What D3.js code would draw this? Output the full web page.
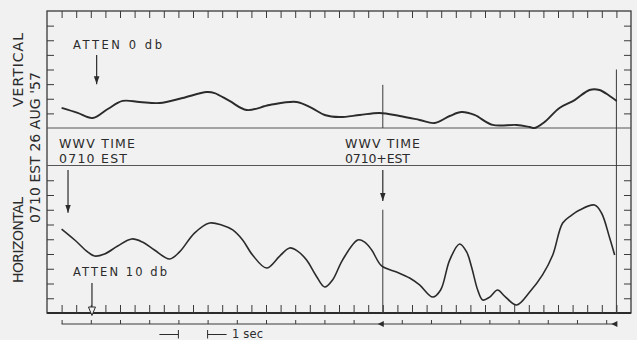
<!DOCTYPE html>
<html>
<head>
<meta charset="utf-8">
<script src="https://cdn.jsdelivr.net/npm/d3@7"></script>
<style>
  body { margin: 0; background: #f1f1f1; }
  svg { display: block; }
  text { font-family: "DejaVu Sans", sans-serif; fill: #2b2b2b; }
</style>
</head>
<body>
<div id="chart"></div>
<script>
// time in seconds from the first half-second tick, amplitude in grid divisions
const verticalTime = [0, 0.55, 1.06, 1.58, 2.09, 2.67, 3.36, 4.14, 4.97, 5.24, 5.75, 6.34, 7.12, 8.05, 8.56, 9.01, 9.52, 10.21, 10.89, 11.58, 12.26, 12.77, 13.29, 13.7, 14.14, 14.76, 15.58, 16.03, 16.2, 16.54, 17.05, 17.57, 18.08, 18.42, 18.77, 19.01];
const verticalLevel = [1.37, 1.03, 0.68, 1.3, 1.85, 1.78, 1.71, 2.05, 2.46, 2.39, 1.85, 1.23, 1.57, 1.78, 1.37, 0.89, 0.75, 0.89, 1.03, 0.82, 0.55, 0.34, 0.82, 1.09, 0.89, 0.21, 0.21, 0.07, 0.0, 0.41, 1.37, 1.91, 2.6, 2.6, 2.19, 1.85];

const horizontalTime = [0, 0.45, 0.89, 1.13, 1.47, 1.92, 2.4, 2.77, 3.18, 3.7, 4.04, 4.55, 5.07, 5.48, 5.86, 6.2, 6.54, 7.02, 7.47, 7.81, 8.08, 8.39, 8.7, 9.01, 9.28, 9.62, 10.14, 10.38, 10.62, 10.96, 11.47, 11.92, 12.26, 12.71, 12.98, 13.29, 13.63, 13.87, 14.04, 14.25, 14.42, 14.66, 14.93, 15.17, 15.58, 16.03, 16.47, 16.82, 17.16, 17.47, 17.74, 18.25, 18.49, 18.77, 18.94];
const horizontalLevel = [5.69, 4.95, 4.14, 3.86, 4.0, 4.54, 5.02, 4.81, 4.27, 3.66, 4.14, 5.42, 6.1, 5.97, 5.63, 4.95, 3.93, 3.05, 3.86, 4.41, 4.2, 3.59, 2.58, 1.76, 2.24, 3.59, 4.95, 4.81, 4.27, 3.19, 2.78, 2.37, 1.9, 1.08, 1.56, 3.59, 4.68, 4.14, 3.12, 1.56, 0.88, 1.08, 1.56, 1.15, 0.54, 1.42, 2.58, 3.93, 6.1, 6.64, 6.98, 7.32, 6.78, 5.08, 3.93];

const halfSecondTicks = d3.range(0, 19.01, 0.5);
const topGridLevels = [1, 2, 3, 4, 5, 6, 7];
const bottomGridLevels = [1, 2, 3, 4, 5, 6, 7, 8, 9];
const timeCodeTicks = [0, 1, 2, 3, 4, 5, 6, 7, 8, 9, 10, 11.65, 12.65, 13.65, 14.65, 15.65, 16.65, 17.65, 18.65];
const timeCodeArrows = [11, 19];
const secondMarks = [4, 5];

const width = 637, height = 340;
const ink = '#2b2b2b';

const svg = d3.select('#chart').append('svg')
  .attr('width', width)
  .attr('height', height);

svg.append('rect').attr('width', width).attr('height', height).attr('fill', '#f1f1f1');

const x = d3.scaleLinear().domain([-0.5, 19.5]).range([47, 631]);
const yTop = d3.scaleLinear().domain([0, 8]).range([128, 11]);
const yBottom = d3.scaleLinear().domain([0, 10]).range([313, 165.5]);

svg.append('defs').append('marker')
  .attr('id', 'head')
  .attr('viewBox', '0 0 10 10')
  .attr('refX', 10).attr('refY', 5)
  .attr('markerWidth', 8).attr('markerHeight', 8)
  .attr('markerUnits', 'userSpaceOnUse')
  .attr('orient', 'auto')
  .append('path')
  .attr('d', 'M0,1.5 L10,5 L0,8.5 Z')
  .attr('fill', ink);

// frame and the band between the two records
svg.append('rect')
  .attr('x', x(-0.5)).attr('y', yTop(8))
  .attr('width', x(19.5) - x(-0.5)).attr('height', yBottom(0) - yTop(8))
  .attr('fill', 'none').attr('stroke', '#3a3a3a').attr('stroke-width', 1.3);

[yTop(0), yBottom(10)].forEach(y => {
  svg.append('line')
    .attr('x1', x(-0.5)).attr('x2', x(19.5))
    .attr('y1', y).attr('y2', y)
    .attr('stroke', '#555').attr('stroke-width', 1);
});

svg.append('line')
  .attr('x1', x(-0.5)).attr('x2', x(19.5))
  .attr('y1', yBottom(0)).attr('y2', yBottom(0))
  .attr('stroke', ink).attr('stroke-width', 2.2);

const noDomain = g => g.select('.domain').remove();

svg.append('g').attr('color', '#3a3a3a')
  .attr('transform', `translate(0,${yTop(8)})`)
  .call(d3.axisBottom(x).tickValues(halfSecondTicks).tickSize(7).tickFormat(''))
  .call(noDomain);

svg.append('g').attr('color', '#3a3a3a')
  .attr('transform', `translate(0,${yBottom(0)})`)
  .call(d3.axisTop(x).tickValues(halfSecondTicks).tickSize(8).tickFormat(''))
  .call(noDomain);

[[yTop, topGridLevels], [yBottom, bottomGridLevels]].forEach(([scale, levels]) => {
  svg.append('g').attr('color', '#3a3a3a')
    .attr('transform', `translate(${x(-0.5)},0)`)
    .call(d3.axisRight(scale).tickValues(levels).tickSize(7).tickFormat(''))
    .call(noDomain);
  svg.append('g').attr('color', '#3a3a3a')
    .attr('transform', `translate(${x(19.5)},0)`)
    .call(d3.axisLeft(scale).tickValues(levels).tickSize(7).tickFormat(''))
    .call(noDomain);
});

// time code line under the record
const codeY = 324;
svg.append('line')
  .attr('x1', x(0)).attr('x2', x(19))
  .attr('y1', codeY).attr('y2', codeY)
  .attr('stroke', '#3a3a3a').attr('stroke-width', 1);
svg.append('g').attr('color', '#3a3a3a')
  .attr('transform', `translate(0,${codeY})`)
  .call(d3.axisTop(x).tickValues(timeCodeTicks).tickSize(4).tickFormat(''))
  .call(noDomain);
svg.selectAll('.code-arrow')
  .data(timeCodeArrows)
  .join('path')
  .attr('class', 'code-arrow')
  .attr('d', t => `M${x(t) - 5},${codeY} L${x(t) + 1},${codeY - 3} L${x(t) + 1},${codeY + 3} Z`)
  .attr('fill', ink);

// marker lines
svg.append('line')
  .attr('x1', x(11)).attr('x2', x(11))
  .attr('y1', yTop(2.95)).attr('y2', yTop(0))
  .attr('stroke', '#3a3a3a').attr('stroke-width', 1);
svg.append('line')
  .attr('x1', x(11)).attr('x2', x(11))
  .attr('y1', yBottom(7)).attr('y2', yBottom(0))
  .attr('stroke', '#3a3a3a').attr('stroke-width', 1);
svg.append('line')
  .attr('x1', x(19)).attr('x2', x(19))
  .attr('y1', yTop(4)).attr('y2', yBottom(0))
  .attr('stroke', '#3a3a3a').attr('stroke-width', 1);

// the two records
const vertical = verticalTime.map((t, i) => [t, verticalLevel[i]]);
const horizontal = horizontalTime.map((t, i) => [t, horizontalLevel[i]]);

svg.append('path')
  .datum(vertical)
  .attr('fill', 'none').attr('stroke', ink).attr('stroke-width', 1.9)
  .attr('d', d3.line().x(d => x(d[0])).y(d => yTop(d[1])).curve(d3.curveCatmullRom.alpha(0.5)));

svg.append('path')
  .datum(horizontal)
  .attr('fill', 'none').attr('stroke', ink).attr('stroke-width', 1.6)
  .attr('d', d3.line().x(d => x(d[0])).y(d => yBottom(d[1])).curve(d3.curveCatmullRom.alpha(0.5)));

// arrows
const arrows = [
  { t: 1.2, y1: yTop(5), y2: yTop(3) },
  { t: 0.22, y1: yBottom(9.7), y2: yBottom(6.8) },
  { t: 11, y1: yBottom(9.7), y2: yBottom(7.6) }
];
svg.selectAll('.arrow')
  .data(arrows)
  .join('line')
  .attr('class', 'arrow')
  .attr('x1', d => x(d.t)).attr('x2', d => x(d.t))
  .attr('y1', d => d.y1).attr('y2', d => d.y2)
  .attr('stroke', ink).attr('stroke-width', 1.2)
  .attr('marker-end', 'url(#head)');

// attenuation arrow with an open head on the base line
const attX = x(1.04);
svg.append('line')
  .attr('x1', attX).attr('x2', attX)
  .attr('y1', yBottom(2.03)).attr('y2', yBottom(0) - 6)
  .attr('stroke', ink).attr('stroke-width', 1.2);
svg.append('path')
  .attr('d', `M${attX - 3.5},${yBottom(0) - 6} L${attX + 3.5},${yBottom(0) - 6} L${attX},${yBottom(0) + 2.5} Z`)
  .attr('fill', '#f1f1f1').attr('stroke', ink).attr('stroke-width', 1);

// one second scale
const secY = 334.5;
svg.append('line')
  .attr('x1', x(secondMarks[0]) - 19).attr('x2', x(secondMarks[0]))
  .attr('y1', secY).attr('y2', secY).attr('stroke', ink);
svg.append('line')
  .attr('x1', x(secondMarks[1])).attr('x2', x(secondMarks[1]) + 19)
  .attr('y1', secY).attr('y2', secY).attr('stroke', ink);
secondMarks.forEach(t => {
  svg.append('line')
    .attr('x1', x(t)).attr('x2', x(t))
    .attr('y1', secY - 4.5).attr('y2', secY + 4).attr('stroke', ink);
});

// lettering
const labels = [
  { text: 'ATTEN 0 db', x: 73, y: 48.5, size: 11.5, len: 89 },
  { text: 'WWV TIME', x: 59, y: 147.5, size: 12.5, len: 76 },
  { text: '0710 EST', x: 59, y: 163, size: 12.5, len: 68 },
  { text: 'WWV TIME', x: 345, y: 147.5, size: 12.5, len: 75 },
  { text: '0710+EST', x: 345, y: 163, size: 12.5, len: 65 },
  { text: 'ATTEN 10 db', x: 73, y: 276, size: 11.5, len: 94 },
  { text: '1 sec', x: 232, y: 337.5, size: 11.5, len: 31 }
];
svg.selectAll('.label')
  .data(labels)
  .join('text')
  .attr('class', 'label')
  .attr('x', d => d.x).attr('y', d => d.y)
  .attr('font-size', d => d.size)
  .attr('textLength', d => d.len)
  .attr('lengthAdjust', 'spacing')
  .text(d => d.text);

const sideLabels = [
  { text: 'VERTICAL', x: 23, y: 70, len: 74 },
  { text: "0710 EST  26 AUG '57", x: 40, y: 147.5, len: 151 },
  { text: 'HORIZONTAL', x: 23, y: 240, len: 86 }
];
svg.selectAll('.side')
  .data(sideLabels)
  .join('text')
  .attr('class', 'side')
  .attr('transform', d => `translate(${d.x},${d.y}) rotate(-90)`)
  .attr('text-anchor', 'middle')
  .attr('font-size', 14)
  .attr('textLength', d => d.len)
  .attr('lengthAdjust', 'spacing')
  .text(d => d.text);
</script>
</body>
</html>
